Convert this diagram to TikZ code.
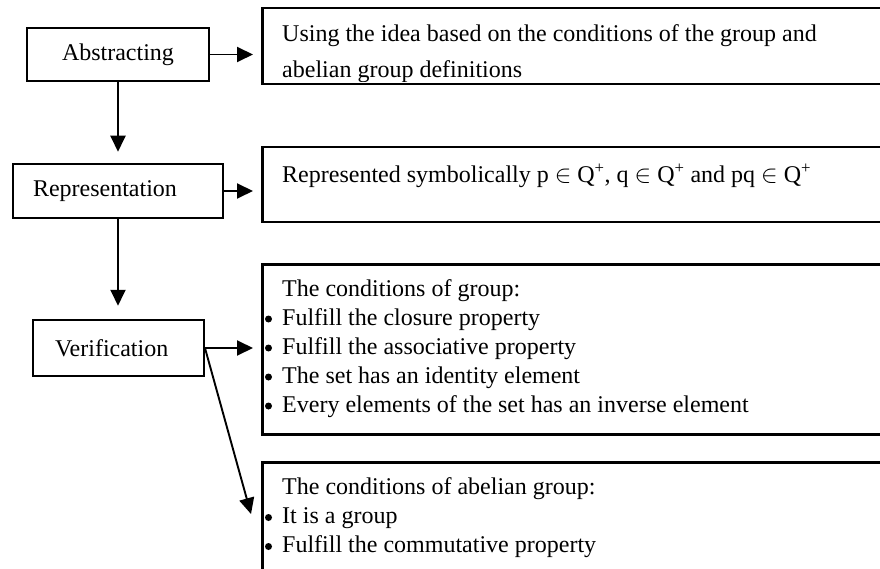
\documentclass[tikz,border=0pt]{standalone}
\usepackage{fontspec}
\setmainfont{Liberation Serif}
\usetikzlibrary{arrows.meta}
\begin{document}
\begin{tikzpicture}[x=1pt,y=-1pt,
  font=\fontsize{24}{29}\selectfont,
  lbox/.style={draw, line width=2.5pt, align=left, inner ysep=0pt},
  rbox/.style={draw, line width=2.5pt, anchor=north west, minimum width=700pt, inner sep=0pt},
  txt/.style={anchor=base west, inner sep=0pt},
  bul/.style={circle, fill, inner sep=0pt, minimum size=7pt},
  arr/.style={line width=1.9pt, -{Triangle[length=16pt,width=15pt]}}]
\useasboundingbox (0,0) rectangle (880,569);
\clip (0,0) rectangle (880,569);

% left boxes
\node[lbox, text width=112pt, inner xsep=35pt, minimum height=53pt] (abs) at (118,54.5) {Abstracting};
\node[lbox, text width=170pt, inner xsep=20pt, minimum height=54pt] (rep) at (118,191) {Representation};
\node[lbox, text width=127pt, inner xsep=22pt, minimum height=56pt] (ver) at (118.5,348) {Verification};

% right boxes
\node[rbox, minimum height=76pt] (b1) at (261,7) {};
\node[rbox, minimum height=75pt] (b2) at (261,146) {};
\node[rbox, minimum height=170pt] (b3) at (261,263) {};
\node[rbox, minimum height=200pt] (b4) at (261,461) {};

% box texts
\begin{scope}
\clip (262,8) rectangle (880,82);
\node[txt] (t1a) at (282,42) {Using the idea based on the conditions of the group and};
\node[txt] (t1b) at (282,77.5) {abelian group definitions};
\end{scope}
\node[txt] (t2) at (282,183) {Represented symbolically p $\in$ Q\textsuperscript{+}, q $\in$ Q\textsuperscript{+} and pq $\in$ Q\textsuperscript{+}};

\node[txt] (t3) at (282,296.5) {The conditions of group:};
\node[txt] (t3a) at (282,325) {Fulfill the closure property};
\node[txt] (t3b) at (282,354) {Fulfill the associative property};
\node[txt] (t3c) at (282,383) {The set has an identity element};
\node[txt] (t3d) at (282,412) {Every elements of the set has an inverse element};
\node[bul] (d3a) at (268.5,319) {};
\node[bul] (d3b) at (268.5,348) {};
\node[bul] (d3c) at (268.5,377) {};
\node[bul] (d3d) at (268.5,406) {};

\node[txt] (t4) at (282,494) {The conditions of abelian group:};
\node[txt] (t4a) at (282,523.5) {It is a group};
\node[txt] (t4b) at (282,552.5) {Fulfill the commutative property};
\node[bul] (d4a) at (268.5,517.5) {};
\node[bul] (d4b) at (268.5,546.5) {};

% connectors
\draw[arr, shorten >=8pt] (abs.east) -- (abs.east -| b1.west);
\draw[arr, shorten >=8pt] (rep.east) -- (rep.east -| b2.west);
\draw[arr, shorten >=8pt] (ver.east) -- (ver.east -| b3.west);
\draw[arr, shorten >=11pt] (abs.south) -- (abs.south |- rep.north);
\draw[arr, shorten >=13pt] (rep.south) -- (rep.south |- ver.north);
\coordinate (dtip) at (251,514);
\draw[arr] ([yshift=-1pt]ver.east) -- (dtip);
\end{tikzpicture}
\end{document}
